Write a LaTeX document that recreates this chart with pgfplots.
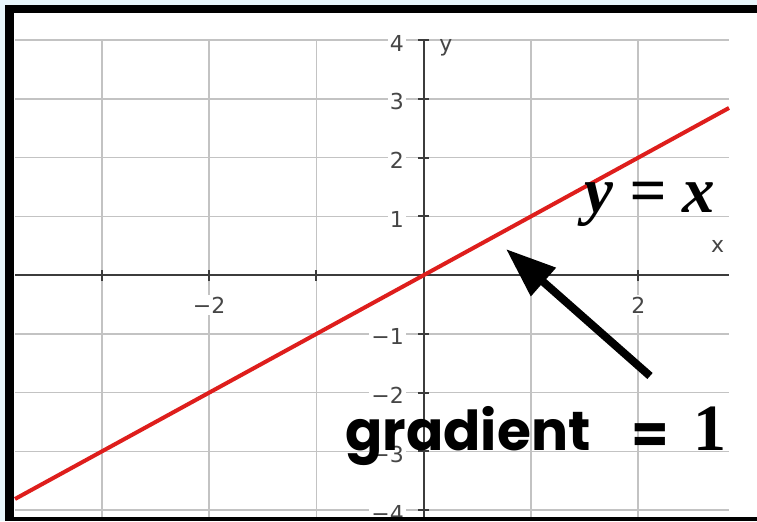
\documentclass[border=0pt]{standalone}
\usepackage{pgfplots}
\pgfplotsset{compat=1.18}
\usetikzlibrary{arrows.meta}
\usepackage{fontspec}
\newfontfamily\tickfont{DejaVu Sans}
\newfontfamily\serifb{Liberation Serif}
\newfontfamily\comic{Poppins}
\definecolor{bgblue}{RGB}{232,246,251}
\definecolor{gridgray}{RGB}{195,195,195}
\definecolor{axgray}{RGB}{60,60,60}
\definecolor{lblgray}{RGB}{70,70,70}
\definecolor{linered}{RGB}{222,30,28}
\begin{document}
\begin{tikzpicture}[x=0.5pt,y=0.5pt]
\fill[white] (0,0) rectangle (757,521);
\begin{axis}[at={(14,4)}, anchor=south west, scale only axis,
 width=357pt, height=239.25pt,
 xmin=-3.81, xmax=2.846, ymin=-4.145, ymax=4,
 axis lines=middle, axis line style={-, draw=axgray, line width=1pt},
 xtick={-2,2}, xticklabels={−2,2},
 extra x ticks={-3,-1,1}, extra x tick labels={},
 extra x tick style={grid=major, xticklabel style={fill=none, draw=none}},
 ytick={-4,-3,-2,-1,1,2,3,4}, yticklabels={−4,−3,−2,−1,1,2,3,4},
 grid=major, grid style={gridgray, line width=0.8pt},
 tick align=center, major tick length=5.5pt, tick style={axgray, line width=1pt},
 ticklabel style={font=\tickfont\fontsize{11}{11}\selectfont, text=lblgray, fill=white, inner sep=1pt},
 xticklabel style={anchor=north, yshift=-7pt},
 yticklabel style={anchor=east, xshift=-6pt, yshift=-1.5pt},
 clip=false]
\addplot[linered, line width=2pt] coordinates {(-3.81,-3.81) (2.846,2.846)};
\node[font=\tickfont\fontsize{11}{11}\selectfont, text=lblgray] at (axis cs:2.74,0.485) {x};
\node[font=\tickfont\fontsize{11}{11}\selectfont, text=lblgray] at (axis cs:0.207,3.87) {y};
\end{axis}
\node[anchor=base, font=\serifb\bfseries\itshape\fontsize{32.5}{33}\selectfont, inner sep=0] at (650,308) {y = x};
\draw[line width=4pt, -{Triangle[length=25pt, width=18pt]}] (650,145) -- (506,272);
\node[anchor=base west, font=\comic\bfseries\fontsize{27.5}{28}\selectfont, inner sep=0] at (345,71) {gradient};
\node[anchor=center, font=\comic\bfseries\fontsize{27}{27}\selectfont, inner sep=0] at (650,82) {=};
\node[anchor=base, font=\serifb\bfseries\fontsize{33}{33}\selectfont, inner sep=0] at (710,71) {1};
% frame
\fill[black] (5,508) rectangle (757,516);
\fill[black] (5,0) rectangle (14,516);
\fill[black] (5,0) rectangle (757,4);
\fill[bgblue] (0,516) rectangle (757,521);
\fill[bgblue] (0,0) rectangle (5,521);
\pgfresetboundingbox
\useasboundingbox (0,0) rectangle (757,521);
\end{tikzpicture}
\end{document}
